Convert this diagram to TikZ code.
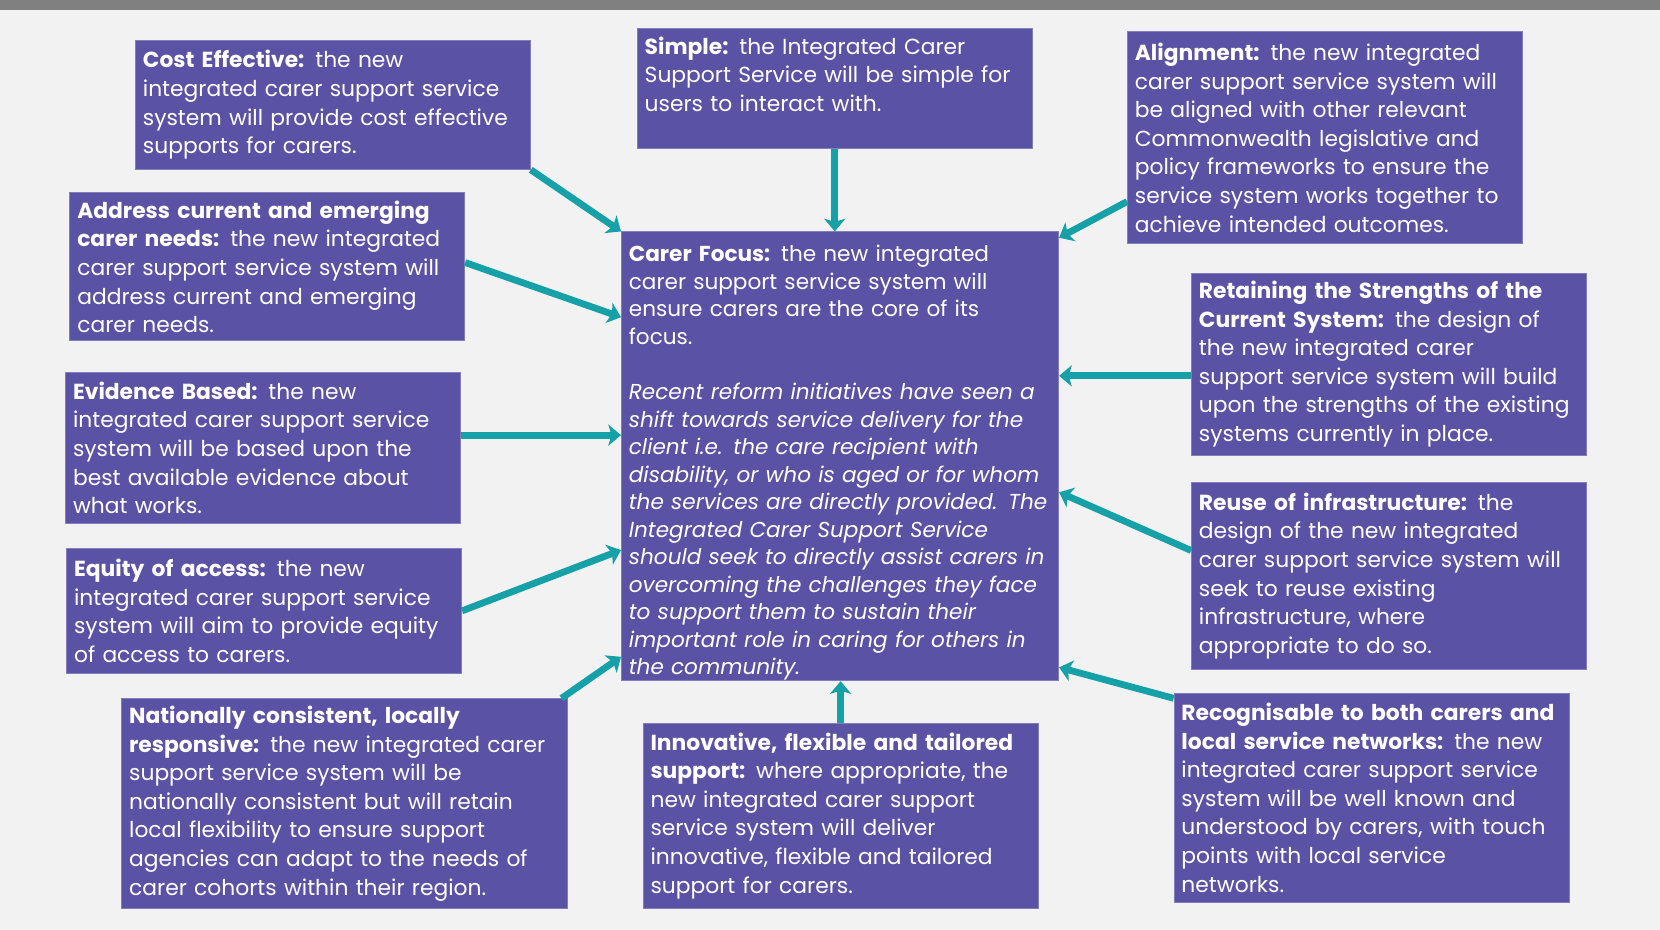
\documentclass[tikz,border=0pt]{standalone}
\usepackage{fontspec}
\setmainfont{Poppins}
\usetikzlibrary{arrows.meta, positioning}
\definecolor{boxpurple}{RGB}{90,82,164}
\definecolor{arrowteal}{RGB}{22,160,168}
\definecolor{pagegray}{RGB}{242,242,242}
\definecolor{bargray}{RGB}{128,128,128}

\begin{document}
\begin{tikzpicture}[x=0.5pt, y=-0.5pt,
    box/.style  = {draw=boxpurple!75!white, fill=boxpurple, text=white, align=left,
                   inner xsep=3.5pt, inner ysep=2pt, text width=179.5pt,
                   font=\fontsize{10.3}{13.5}\selectfont},
    wide/.style = {box, text width=#1},
    ar/.style   = {draw=arrowteal, line width=3.2pt, -{Stealth[length=6pt, width=10pt, inset=1.5pt]}}
  ]
  \fill[pagegray] (0,0) rectangle (1568,878);
  \fill[bargray] (0,0) rectangle (1568,9);
  \useasboundingbox (0,0) rectangle (1568,878);

  % centre box
  \node[wide=199.5pt, minimum height=212pt, inner ysep=0pt, font=\fontsize{10.2}{13}\selectfont] (focus) at (793.5,431) {%
    \rule{0pt}{14pt}\textbf{Carer Focus:} the new integrated\\
    carer support service system will\\
    ensure carers are the core of its\\
    focus.\\[13pt]
    \itshape Recent reform initiatives have seen a\\
    shift towards service delivery for the\\
    client i.e. the care recipient with\\
    disability, or who is aged or for whom\\
    the services are directly provided. The\\
    Integrated Carer Support Service\\
    should seek to directly assist carers in\\
    overcoming the challenges they face\\
    to support them to sustain their\\
    important role in caring for others in\\
    the community.};

  % top row
  \node[box, minimum height=61pt] (cost) at (314.5,99) {%
    \textbf{Cost Effective:} the new\\
    integrated carer support service\\
    system will provide cost effective\\
    supports for carers.};
  \node[box, minimum height=56.5pt] (simple) at (788.5,83.5) {%
    \textbf{Simple:} the Integrated Carer\\
    Support Service will be simple for\\
    users to interact with.\\
    \mbox{}};
  \node[box, minimum height=100pt] (align) at (1251.5,130) {%
    \textbf{Alignment:} the new integrated\\
    carer support service system will\\
    be aligned with other relevant\\
    Commonwealth legislative and\\
    policy frameworks to ensure the\\
    service system works together to\\
    achieve intended outcomes.};

  % left column
  \node[box, minimum height=70pt] (address) at (252.5,252) {%
    \textbf{Address current and emerging}\\
    \textbf{carer needs:} the new integrated\\
    carer support service system will\\
    address current and emerging\\
    carer needs.};
  \node[box, minimum height=71pt] (evidence) at (248.5,423) {%
    \textbf{Evidence Based:} the new\\
    integrated carer support service\\
    system will be based upon the\\
    best available evidence about\\
    what works.};
  \node[box, minimum height=59pt] (equity) at (249.5,577) {%
    \textbf{Equity of access:} the new\\
    integrated carer support service\\
    system will aim to provide equity\\
    of access to carers.};

  % right column
  \node[box, minimum height=86pt] (retain) at (1312,344) {%
    \textbf{Retaining the Strengths of the}\\
    \textbf{Current System:} the design of\\
    the new integrated carer\\
    support service system will build\\
    upon the strengths of the existing\\
    systems currently in place.};
  \node[box, minimum height=88pt] (reuse) at (1312,544) {%
    \textbf{Reuse of infrastructure:} the\\
    design of the new integrated\\
    carer support service system will\\
    seek to reuse existing\\
    infrastructure, where\\
    appropriate to do so.};

  % bottom row
  \node[wide=203.5pt, minimum height=99pt] (nation) at (325.5,759) {%
    \textbf{Nationally consistent, locally}\\
    \textbf{responsive:} the new integrated carer\\
    support service system will be\\
    nationally consistent but will retain\\
    local flexibility to ensure support\\
    agencies can adapt to the needs of\\
    carer cohorts within their region.};
  \node[box, minimum height=87.5pt] (innov) at (794,770.5) {%
    \textbf{Innovative, flexible and tailored}\\
    \textbf{support:} where appropriate, the\\
    new integrated carer support\\
    service system will deliver\\
    innovative, flexible and tailored\\
    support for carers.};
  \node[box, minimum height=98.5pt] (recog) at (1295.5,753.5) {%
    \mbox{\textbf{Recognisable to both carers and}}\\
    \textbf{local service networks:} the new\\
    integrated carer support service\\
    system will be well known and\\
    understood by carers, with touch\\
    points with local service\\
    networks.};

  % arrows into the centre box
  \draw[ar] (cost.south east) -- (focus.north west);
  \draw[ar] (simple.south) -- (simple.south |- focus.north);
  \draw[ar] ([yshift=20pt]align.south west) -- ([yshift=-3pt]focus.north east);
  \draw[ar] ([yshift=2pt]address.east) -- ([yshift=-40.5pt]focus.north west);
  \draw[ar] ([yshift=6pt]evidence.east) -- ([yshift=6pt]evidence.east -| focus.west);
  \draw[ar] (equity.east) -- ([yshift=-150.5pt]focus.north west);
  \draw[ar] ([xshift=-3pt]nation.north east) -- ([yshift=11.5pt]focus.south west);
  \draw[ar] (innov.north) -- (innov.north |- focus.south);
  \draw[ar] ([yshift=-5.5pt]retain.west) -- ([yshift=-5.5pt]retain.west -| focus.east);
  \draw[ar] ([yshift=12pt]reuse.west) -- ([yshift=-17pt]focus.east);
  \draw[ar] ([yshift=-2.5pt]recog.north west) -- ([yshift=6.5pt]focus.south east);
\end{tikzpicture}
\end{document}
